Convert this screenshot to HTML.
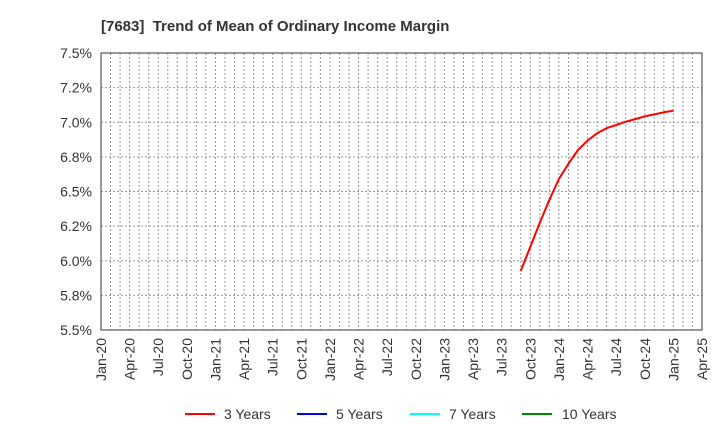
<!DOCTYPE html>
<html><head><meta charset="utf-8"><style>
body{margin:0;background:#fff;}
svg{font-family:"Liberation Sans",Arial,sans-serif;}
</style></head><body>
<svg width="720" height="440" viewBox="0 0 720 440" id="c">
<text x="101" y="31" font-size="15" font-weight="bold" fill="#333">[7683]&#160; Trend of Mean of Ordinary Income Margin</text>
<g id="grid"></g>
<g id="yax"></g>
<g id="xax"></g>
<g id="series"></g>
<rect x="101" y="53" width="601" height="277" fill="none" stroke="#333" stroke-width="1"/>
<g font-size="14" fill="#333">
<g><line x1="185" y1="414" x2="215" y2="414" stroke="#f00" stroke-width="2"/><text x="224" y="419">3 Years</text></g>
<g><line x1="297" y1="414" x2="327" y2="414" stroke="#00f" stroke-width="2"/><text x="336" y="419">5 Years</text></g>
<g><line x1="410" y1="414" x2="440" y2="414" stroke="#0ff" stroke-width="2"/><text x="449" y="419">7 Years</text></g>
<g><line x1="522" y1="414" x2="552" y2="414" stroke="#080" stroke-width="2"/><text x="562" y="419">10 Years</text></g>
</g>
</svg>
<script>
const xTickLabels=["Jan-20","Apr-20","Jul-20","Oct-20","Jan-21","Apr-21","Jul-21","Oct-21","Jan-22","Apr-22","Jul-22","Oct-22","Jan-23","Apr-23","Jul-23","Oct-23","Jan-24","Apr-24","Jul-24","Oct-24","Jan-25","Apr-25"];
const yTickValues=[7.5,7.25,7.0,6.75,6.5,6.25,6.0,5.75,5.5];
const yTickLabels=["7.5%","7.2%","7.0%","6.8%","6.5%","6.2%","6.0%","5.8%","5.5%"];
const series3Start=44;
const series3Values=[5.926,6.10,6.275,6.44,6.59,6.70,6.80,6.867,6.92,6.957,6.98,7.004,7.023,7.043,7.057,7.072,7.083];
const NS="http://www.w3.org/2000/svg";
const L=101,R=702,T=53,B=330,months=63;
function xs(m){return L+m*(R-L)/months;}
function ys(v){return T+(7.5-v)*(B-T)/2.0;}
function mk(t,a,p){const e=document.createElementNS(NS,t);for(const k in a)e.setAttribute(k,a[k]);p.appendChild(e);return e;}
const grid=document.getElementById('grid'),yax=document.getElementById('yax'),xax=document.getElementById('xax'),ser=document.getElementById('series');
for(let m=1;m<months;m++){
 const l=mk('line',{x1:xs(m),x2:xs(m),y1:T,y2:B,stroke:'#999','stroke-width':1,'stroke-dasharray':'2,2'},grid);
 
 
}
yTickValues.forEach((v,i)=>{
 const y=ys(v);
 if(i>0&&i<yTickValues.length-1){
  const l=mk('line',{x1:L,x2:R,y1:y,y2:y,stroke:'#999','stroke-width':1,'stroke-dasharray':'2,2'},grid);
  
  
 }
 const t=mk('text',{x:92,y:y+5,'text-anchor':'end','font-size':14,fill:'#333'},yax);
 t.textContent=yTickLabels[i];
 
 
});
xTickLabels.forEach((s,i)=>{
 const x=xs(i*3);
 const t=mk('text',{x:0,y:0,'text-anchor':'end','font-size':14,fill:'#333',transform:`translate(${x+5},338) rotate(-90)`},xax);
 t.textContent=s;
 
 
});
const pts=series3Values.map((v,i)=>xs(series3Start+i).toFixed(1)+','+ys(v).toFixed(1)).join(' ');
const pl=mk('polyline',{points:pts,fill:'none',stroke:'#f00','stroke-width':2,'stroke-linejoin':'round'},ser);


</script>
</body></html>
